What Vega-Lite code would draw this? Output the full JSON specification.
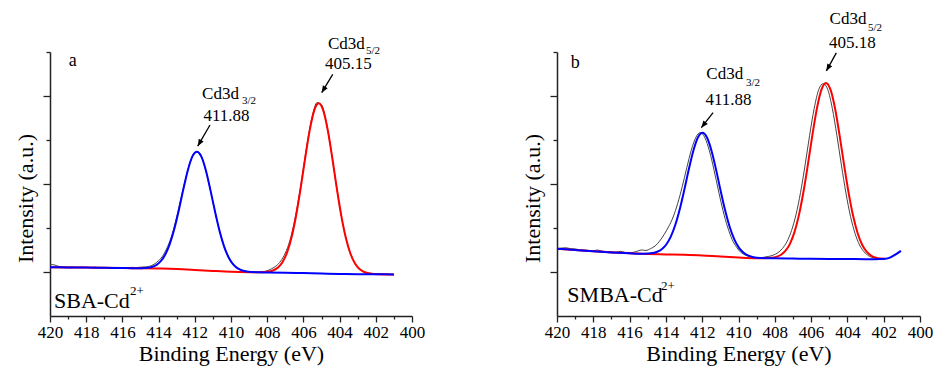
{
  "$schema": "https://vega.github.io/schema/vega-lite/v6.json",
  "padding": {"left": 14, "top": 10, "right": 5, "bottom": 5},
  "bounds": "flush",
  "spacing": 145,
  "config": {
    "view": {"stroke": null},
    "font": "'Times New Roman', Times, 'Liberation Serif', Tinos, 'Noto Serif', 'DejaVu Serif', serif",
    "text": {"font": "'Times New Roman', Times, 'Liberation Serif', Tinos, 'Noto Serif', 'DejaVu Serif', serif"},
    "axis": {
      "grid": false,
      "domainColor": "#222",
      "domainWidth": 1.5,
      "tickColor": "#222",
      "tickWidth": 1.3,
      "labelFont": "'Times New Roman', Times, 'Liberation Serif', Tinos, 'Noto Serif', 'DejaVu Serif', serif",
      "labelFontSize": 17,
      "labelColor": "#000",
      "titleFont": "'Times New Roman', Times, 'Liberation Serif', Tinos, 'Noto Serif', 'DejaVu Serif', serif",
      "titleFontSize": 22,
      "titleFontWeight": "normal",
      "titleColor": "#000"
    }
  },
  "datasets": {
    "a_raw": [
      {"e":420,"v":1.17},{"e":419.75,"v":1.16},{"e":419.5,"v":1.125},{"e":419.25,"v":1.115},{"e":419,"v":1.11},{"e":418.75,"v":1.115},{"e":418.5,"v":1.105},{"e":418.25,"v":1.11},{"e":418,"v":1.105},{"e":417.75,"v":1.1},{"e":417.5,"v":1.11},{"e":417.25,"v":1.095},{"e":417,"v":1.1},{"e":416.75,"v":1.09},{"e":416.5,"v":1.1},{"e":416.25,"v":1.095},{"e":416,"v":1.1},{"e":415.75,"v":1.09},{"e":415.5,"v":1.105},{"e":415.25,"v":1.1},{"e":415,"v":1.11},{"e":414.75,"v":1.115},{"e":414.5,"v":1.13},{"e":414.25,"v":1.175},{"e":414,"v":1.26},{"e":413.75,"v":1.38},{"e":413.5,"v":1.58},{"e":413.25,"v":1.86},{"e":413,"v":2.25},{"e":412.75,"v":2.7},{"e":412.5,"v":3.14},{"e":412.25,"v":3.51},{"e":412,"v":3.72},{"e":411.75,"v":3.71},{"e":411.5,"v":3.46},{"e":411.25,"v":3.07},{"e":411,"v":2.6},{"e":410.75,"v":2.13},{"e":410.5,"v":1.74},{"e":410.25,"v":1.45},{"e":410,"v":1.25},{"e":409.75,"v":1.13},{"e":409.5,"v":1.06},{"e":409.25,"v":1.025},{"e":409,"v":1.005},{"e":408.75,"v":0.995},{"e":408.5,"v":1.0},{"e":408.25,"v":1.005},{"e":408,"v":1.03},{"e":407.75,"v":1.075},{"e":407.5,"v":1.14},{"e":407.25,"v":1.25},{"e":407,"v":1.43},{"e":406.75,"v":1.71},{"e":406.5,"v":2.14},{"e":406.25,"v":2.7},{"e":406,"v":3.36},{"e":405.75,"v":4.03},{"e":405.5,"v":4.56},{"e":405.25,"v":4.85},{"e":405,"v":4.8},{"e":404.75,"v":4.44},{"e":404.5,"v":3.85},{"e":404.25,"v":3.16},{"e":404,"v":2.5},{"e":403.75,"v":1.95},{"e":403.5,"v":1.55},{"e":403.25,"v":1.28},{"e":403,"v":1.12},{"e":402.75,"v":1.03},{"e":402.5,"v":0.985},{"e":402.25,"v":0.965},{"e":402,"v":0.955},{"e":401.75,"v":0.96},{"e":401.5,"v":0.955},{"e":401.25,"v":0.95}
    ],
    "a_blue": [
      {"e":420,"v":1.11},{"e":419,"v":1.105},{"e":418,"v":1.1},{"e":417,"v":1.095},{"e":416,"v":1.09},{"e":415.5,"v":1.087},{"e":415.13,"v":1.085},{"e":414.88,"v":1.088},{"e":414.63,"v":1.095},{"e":414.38,"v":1.114},{"e":414.13,"v":1.158},{"e":413.88,"v":1.245},{"e":413.63,"v":1.398},{"e":413.38,"v":1.638},{"e":413.13,"v":1.981},{"e":412.88,"v":2.411},{"e":412.63,"v":2.884},{"e":412.38,"v":3.319},{"e":412.13,"v":3.627},{"e":411.88,"v":3.735},{"e":411.63,"v":3.615},{"e":411.38,"v":3.296},{"e":411.13,"v":2.849},{"e":410.88,"v":2.368},{"e":410.63,"v":1.929},{"e":410.38,"v":1.578},{"e":410.13,"v":1.33},{"e":409.88,"v":1.172},{"e":409.63,"v":1.081},{"e":409.38,"v":1.034},{"e":409.13,"v":1.01},{"e":408.88,"v":0.999},{"e":408.5,"v":0.993},{"e":408,"v":0.99},{"e":407,"v":0.985},{"e":406,"v":0.975},{"e":405,"v":0.964},{"e":404,"v":0.955},{"e":403,"v":0.95},{"e":402,"v":0.948},{"e":401,"v":0.945}
    ],
    "a_red": [
      {"e":420,"v":1.11},{"e":418,"v":1.1},{"e":416,"v":1.09},{"e":415,"v":1.084},{"e":414,"v":1.078},{"e":413,"v":1.068},{"e":412,"v":1.048},{"e":411,"v":1.025},{"e":410,"v":1.005},{"e":409,"v":0.995},{"e":408.5,"v":0.993},{"e":408.15,"v":0.999},{"e":407.9,"v":1.01},{"e":407.65,"v":1.039},{"e":407.4,"v":1.103},{"e":407.15,"v":1.228},{"e":406.9,"v":1.447},{"e":406.65,"v":1.795},{"e":406.4,"v":2.29},{"e":406.15,"v":2.912},{"e":405.9,"v":3.594},{"e":405.65,"v":4.225},{"e":405.4,"v":4.674},{"e":405.15,"v":4.835},{"e":404.9,"v":4.669},{"e":404.65,"v":4.215},{"e":404.4,"v":3.579},{"e":404.15,"v":2.891},{"e":403.9,"v":2.265},{"e":403.65,"v":1.767},{"e":403.4,"v":1.415},{"e":403.15,"v":1.193},{"e":402.9,"v":1.066},{"e":402.65,"v":1.0},{"e":402.4,"v":0.97},{"e":402.15,"v":0.956},{"e":401.5,"v":0.946},{"e":401,"v":0.945}
    ],
    "b_raw": [
      {"e":420,"v":1.53},{"e":419.75,"v":1.545},{"e":419.5,"v":1.55},{"e":419.25,"v":1.53},{"e":419,"v":1.525},{"e":418.75,"v":1.505},{"e":418.5,"v":1.5},{"e":418.25,"v":1.49},{"e":418,"v":1.485},{"e":417.75,"v":1.5},{"e":417.5,"v":1.47},{"e":417.25,"v":1.465},{"e":417,"v":1.46},{"e":416.75,"v":1.45},{"e":416.5,"v":1.47},{"e":416.25,"v":1.445},{"e":416,"v":1.44},{"e":415.75,"v":1.45},{"e":415.6,"v":1.47},{"e":415.35,"v":1.5},{"e":415.1,"v":1.49},{"e":414.85,"v":1.53},{"e":414.6,"v":1.59},{"e":414.35,"v":1.7},{"e":414.1,"v":1.85},{"e":413.85,"v":2.03},{"e":413.6,"v":2.25},{"e":413.35,"v":2.56},{"e":413.1,"v":2.94},{"e":412.85,"v":3.37},{"e":412.6,"v":3.77},{"e":412.35,"v":4.06},{"e":412.1,"v":4.17},{"e":411.85,"v":4.05},{"e":411.6,"v":3.75},{"e":411.35,"v":3.32},{"e":411.1,"v":2.84},{"e":410.85,"v":2.39},{"e":410.6,"v":2.02},{"e":410.35,"v":1.74},{"e":410.1,"v":1.56},{"e":409.85,"v":1.44},{"e":409.6,"v":1.38},{"e":409.35,"v":1.345},{"e":409.1,"v":1.33},{"e":408.85,"v":1.32},{"e":408.58,"v":1.337},{"e":408.33,"v":1.355},{"e":408.08,"v":1.384},{"e":407.83,"v":1.438},{"e":407.58,"v":1.534},{"e":407.33,"v":1.69},{"e":407.08,"v":1.94},{"e":406.83,"v":2.307},{"e":406.58,"v":2.811},{"e":406.33,"v":3.435},{"e":406.08,"v":4.109},{"e":405.83,"v":4.718},{"e":405.58,"v":5.145},{"e":405.33,"v":5.28},{"e":405.08,"v":5.144},{"e":404.83,"v":4.715},{"e":404.58,"v":4.105},{"e":404.33,"v":3.429},{"e":404.08,"v":2.793},{"e":403.83,"v":2.266},{"e":403.58,"v":1.877},{"e":403.33,"v":1.615},{"e":403.08,"v":1.457},{"e":402.83,"v":1.369},{"e":402.58,"v":1.324},{"e":402.33,"v":1.304},{"e":402.08,"v":1.295}
    ],
    "b_blue": [
      {"e":420,"v":1.53},{"e":419.5,"v":1.515},{"e":419,"v":1.5},{"e":418,"v":1.47},{"e":417,"v":1.445},{"e":416,"v":1.425},{"e":415.5,"v":1.416},{"e":415.23,"v":1.417},{"e":414.98,"v":1.42},{"e":414.73,"v":1.431},{"e":414.48,"v":1.46},{"e":414.23,"v":1.518},{"e":413.98,"v":1.625},{"e":413.73,"v":1.804},{"e":413.48,"v":2.073},{"e":413.23,"v":2.437},{"e":412.98,"v":2.878},{"e":412.73,"v":3.345},{"e":412.48,"v":3.766},{"e":412.23,"v":4.062},{"e":411.98,"v":4.165},{"e":411.73,"v":4.052},{"e":411.48,"v":3.746},{"e":411.23,"v":3.315},{"e":410.98,"v":2.838},{"e":410.73,"v":2.39},{"e":410.48,"v":2.018},{"e":410.23,"v":1.742},{"e":409.98,"v":1.555},{"e":409.73,"v":1.442},{"e":409.48,"v":1.377},{"e":409.23,"v":1.343},{"e":408.98,"v":1.325},{"e":408.73,"v":1.318},{"e":408.5,"v":1.312},{"e":408,"v":1.31},{"e":407,"v":1.305},{"e":406,"v":1.3},{"e":405,"v":1.297},{"e":404,"v":1.295},{"e":403,"v":1.29},{"e":402.5,"v":1.29},{"e":401.9,"v":1.3},{"e":401.05,"v":1.48}
    ],
    "b_red": [
      {"e":420,"v":1.53},{"e":418,"v":1.47},{"e":416,"v":1.425},{"e":415,"v":1.41},{"e":414,"v":1.4},{"e":413,"v":1.39},{"e":412,"v":1.375},{"e":411,"v":1.35},{"e":410,"v":1.33},{"e":409,"v":1.315},{"e":408.75,"v":1.314},{"e":408.43,"v":1.316},{"e":408.18,"v":1.324},{"e":407.93,"v":1.343},{"e":407.68,"v":1.387},{"e":407.43,"v":1.473},{"e":407.18,"v":1.629},{"e":406.93,"v":1.889},{"e":406.68,"v":2.275},{"e":406.43,"v":2.8},{"e":406.18,"v":3.433},{"e":405.93,"v":4.109},{"e":405.68,"v":4.717},{"e":405.43,"v":5.144},{"e":405.18,"v":5.298},{"e":404.93,"v":5.143},{"e":404.68,"v":4.715},{"e":404.43,"v":4.105},{"e":404.18,"v":3.428},{"e":403.93,"v":2.792},{"e":403.68,"v":2.265},{"e":403.43,"v":1.876},{"e":403.18,"v":1.614},{"e":402.93,"v":1.456},{"e":402.68,"v":1.369},{"e":402.43,"v":1.324},{"e":402.18,"v":1.306},{"e":401.93,"v":1.3}
    ]
  },
  "hconcat": [
    {
      "width": 362,
      "height": 264,
      "encoding": {
        "x": {"field": "e", "type": "quantitative",
          "scale": {"domain": [400, 420], "reverse": true, "nice": false, "zero": false},
          "axis": {"title": "Binding Energy (eV)", "values": [400,401,402,403,404,405,406,407,408,409,410,411,412,413,414,415,416,417,418,419,420],
            "labelExpr": "datum.value % 2 == 0 ? datum.label : ''", "labelOverlap": false, "labelFlush": false,
            "tickSize": {"condition": {"test": "datum.value % 2 == 0", "value": 6}, "value": 3},
            "labelPadding": 2, "titlePadding": 3}},
        "y": {"field": "v", "type": "quantitative",
          "scale": {"domain": [0, 6], "nice": false, "zero": false},
          "axis": {"title": "Intensity (a.u.)", "values": [1,2,3,4,5,6], "labels": false,
            "tickSize": {"condition": {"test": "datum.value % 2 == 1", "value": 7}, "value": 4},
            "titlePadding": 5, "titleY": 146}}
      },
      "layer": [
        {"data": {"name": "a_raw"}, "mark": {"type": "line", "color": "#444", "strokeWidth": 1, "interpolate": "monotone"}},
        {"data": {"name": "a_red"}, "mark": {"type": "line", "color": "#ff0000", "strokeWidth": 2, "interpolate": "monotone"}},
        {"data": {"name": "a_blue"}, "mark": {"type": "line", "color": "#0000ff", "strokeWidth": 2, "interpolate": "monotone"}},
        {"data": {"values": [{"e": 411.16, "v": 4.34, "e2": 411.84, "v2": 3.86}, {"e": 404.38, "v": 5.49, "e2": 404.99, "v2": 5.075}]},
          "mark": {"type": "rule", "color": "#000", "strokeWidth": 1.3},
          "encoding": {"x2": {"field": "e2"}, "y2": {"field": "v2"}}},
        {"data": {"values": [{"e": 411.84, "v": 3.86}]},
          "mark": {"type": "point", "shape": "M0,0L-0.4,1L0.4,1Z", "filled": true, "color": "#000", "opacity": 1, "size": 196, "angle": 210}},
        {"data": {"values": [{"e": 404.99, "v": 5.075}]},
          "mark": {"type": "point", "shape": "M0,0L-0.4,1L0.4,1Z", "filled": true, "color": "#000", "opacity": 1, "size": 196, "angle": 211}},
        {"data": {"values": [{"e": 411.6, "v": 5.05, "t": "Cd3d"}, {"e": 404.64, "v": 6.18, "t": "Cd3d"}]},
          "mark": {"type": "text", "fontSize": 17, "align": "left", "baseline": "middle", "color": "#000"},
          "encoding": {"text": {"field": "t"}}},
        {"data": {"values": [{"e": 409.39, "v": 4.89, "t": "3/2"}, {"e": 402.54, "v": 6.02, "t": "5/2"}]},
          "mark": {"type": "text", "fontSize": 11, "align": "left", "baseline": "middle", "color": "#000"},
          "encoding": {"text": {"field": "t"}}},
        {"data": {"values": [{"e": 410.25, "v": 4.55, "t": "411.88"}, {"e": 403.51, "v": 5.72, "t": "405.15"}]},
          "mark": {"type": "text", "fontSize": 17, "align": "center", "baseline": "middle", "color": "#000"},
          "encoding": {"text": {"field": "t"}}},
        {"data": {"values": [{"e": 418.75, "v": 5.8, "t": "a"}]},
          "mark": {"type": "text", "fontSize": 18, "align": "center", "baseline": "middle", "color": "#000"},
          "encoding": {"text": {"field": "t"}}},
        {"data": {"values": [{"e": 419.78, "v": 0.34, "t": "SBA-Cd"}]},
          "mark": {"type": "text", "fontSize": 22, "align": "left", "baseline": "middle", "color": "#000"},
          "encoding": {"text": {"field": "t"}}},
        {"data": {"values": [{"e": 415.58, "v": 0.57, "t": "2+"}]},
          "mark": {"type": "text", "fontSize": 13, "align": "left", "baseline": "middle", "color": "#000"},
          "encoding": {"text": {"field": "t"}}}
      ]
    },
    {
      "width": 363,
      "height": 264,
      "encoding": {
        "x": {"field": "e", "type": "quantitative",
          "scale": {"domain": [400, 420], "reverse": true, "nice": false, "zero": false},
          "axis": {"title": "Binding Energy (eV)", "values": [400,401,402,403,404,405,406,407,408,409,410,411,412,413,414,415,416,417,418,419,420],
            "labelExpr": "datum.value % 2 == 0 ? datum.label : ''", "labelOverlap": false, "labelFlush": false,
            "tickSize": {"condition": {"test": "datum.value % 2 == 0", "value": 6}, "value": 3},
            "labelPadding": 2, "titlePadding": 3}},
        "y": {"field": "v", "type": "quantitative",
          "scale": {"domain": [0, 6], "nice": false, "zero": false},
          "axis": {"title": "Intensity (a.u.)", "values": [1,2,3,4,5,6], "labels": false,
            "tickSize": {"condition": {"test": "datum.value % 2 == 1", "value": 7}, "value": 4},
            "titlePadding": 5, "titleY": 146}}
      },
      "layer": [
        {"data": {"name": "b_raw"}, "mark": {"type": "line", "color": "#444", "strokeWidth": 1, "interpolate": "monotone"}},
        {"data": {"name": "b_red"}, "mark": {"type": "line", "color": "#ff0000", "strokeWidth": 2, "interpolate": "monotone"}},
        {"data": {"name": "b_blue"}, "mark": {"type": "line", "color": "#0000ff", "strokeWidth": 2, "interpolate": "monotone"}},
        {"data": {"values": [{"e": 411.4, "v": 4.62, "e2": 412.05, "v2": 4.28}, {"e": 404.61, "v": 5.98, "e2": 405.16, "v2": 5.57}]},
          "mark": {"type": "rule", "color": "#000", "strokeWidth": 1.3},
          "encoding": {"x2": {"field": "e2"}, "y2": {"field": "v2"}}},
        {"data": {"values": [{"e": 412.05, "v": 4.28}]},
          "mark": {"type": "point", "shape": "M0,0L-0.4,1L0.4,1Z", "filled": true, "color": "#000", "opacity": 1, "size": 196, "angle": 218}},
        {"data": {"values": [{"e": 405.16, "v": 5.57}]},
          "mark": {"type": "point", "shape": "M0,0L-0.4,1L0.4,1Z", "filled": true, "color": "#000", "opacity": 1, "size": 196, "angle": 209}},
        {"data": {"values": [{"e": 411.77, "v": 5.49, "t": "Cd3d"}, {"e": 404.98, "v": 6.74, "t": "Cd3d"}]},
          "mark": {"type": "text", "fontSize": 17, "align": "left", "baseline": "middle", "color": "#000"},
          "encoding": {"text": {"field": "t"}}},
        {"data": {"values": [{"e": 409.59, "v": 5.3, "t": "3/2"}, {"e": 402.87, "v": 6.55, "t": "5/2"}]},
          "mark": {"type": "text", "fontSize": 11, "align": "left", "baseline": "middle", "color": "#000"},
          "encoding": {"text": {"field": "t"}}},
        {"data": {"values": [{"e": 410.55, "v": 4.91, "t": "411.88"}, {"e": 403.72, "v": 6.2, "t": "405.18"}]},
          "mark": {"type": "text", "fontSize": 17, "align": "center", "baseline": "middle", "color": "#000"},
          "encoding": {"text": {"field": "t"}}},
        {"data": {"values": [{"e": 418.99, "v": 5.76, "t": "b"}]},
          "mark": {"type": "text", "fontSize": 18, "align": "center", "baseline": "middle", "color": "#000"},
          "encoding": {"text": {"field": "t"}}},
        {"data": {"values": [{"e": 419.43, "v": 0.48, "t": "SMBA-Cd"}]},
          "mark": {"type": "text", "fontSize": 22, "align": "left", "baseline": "middle", "color": "#000"},
          "encoding": {"text": {"field": "t"}}},
        {"data": {"values": [{"e": 414.27, "v": 0.68, "t": "2+"}]},
          "mark": {"type": "text", "fontSize": 13, "align": "left", "baseline": "middle", "color": "#000"},
          "encoding": {"text": {"field": "t"}}}
      ]
    }
  ]
}
